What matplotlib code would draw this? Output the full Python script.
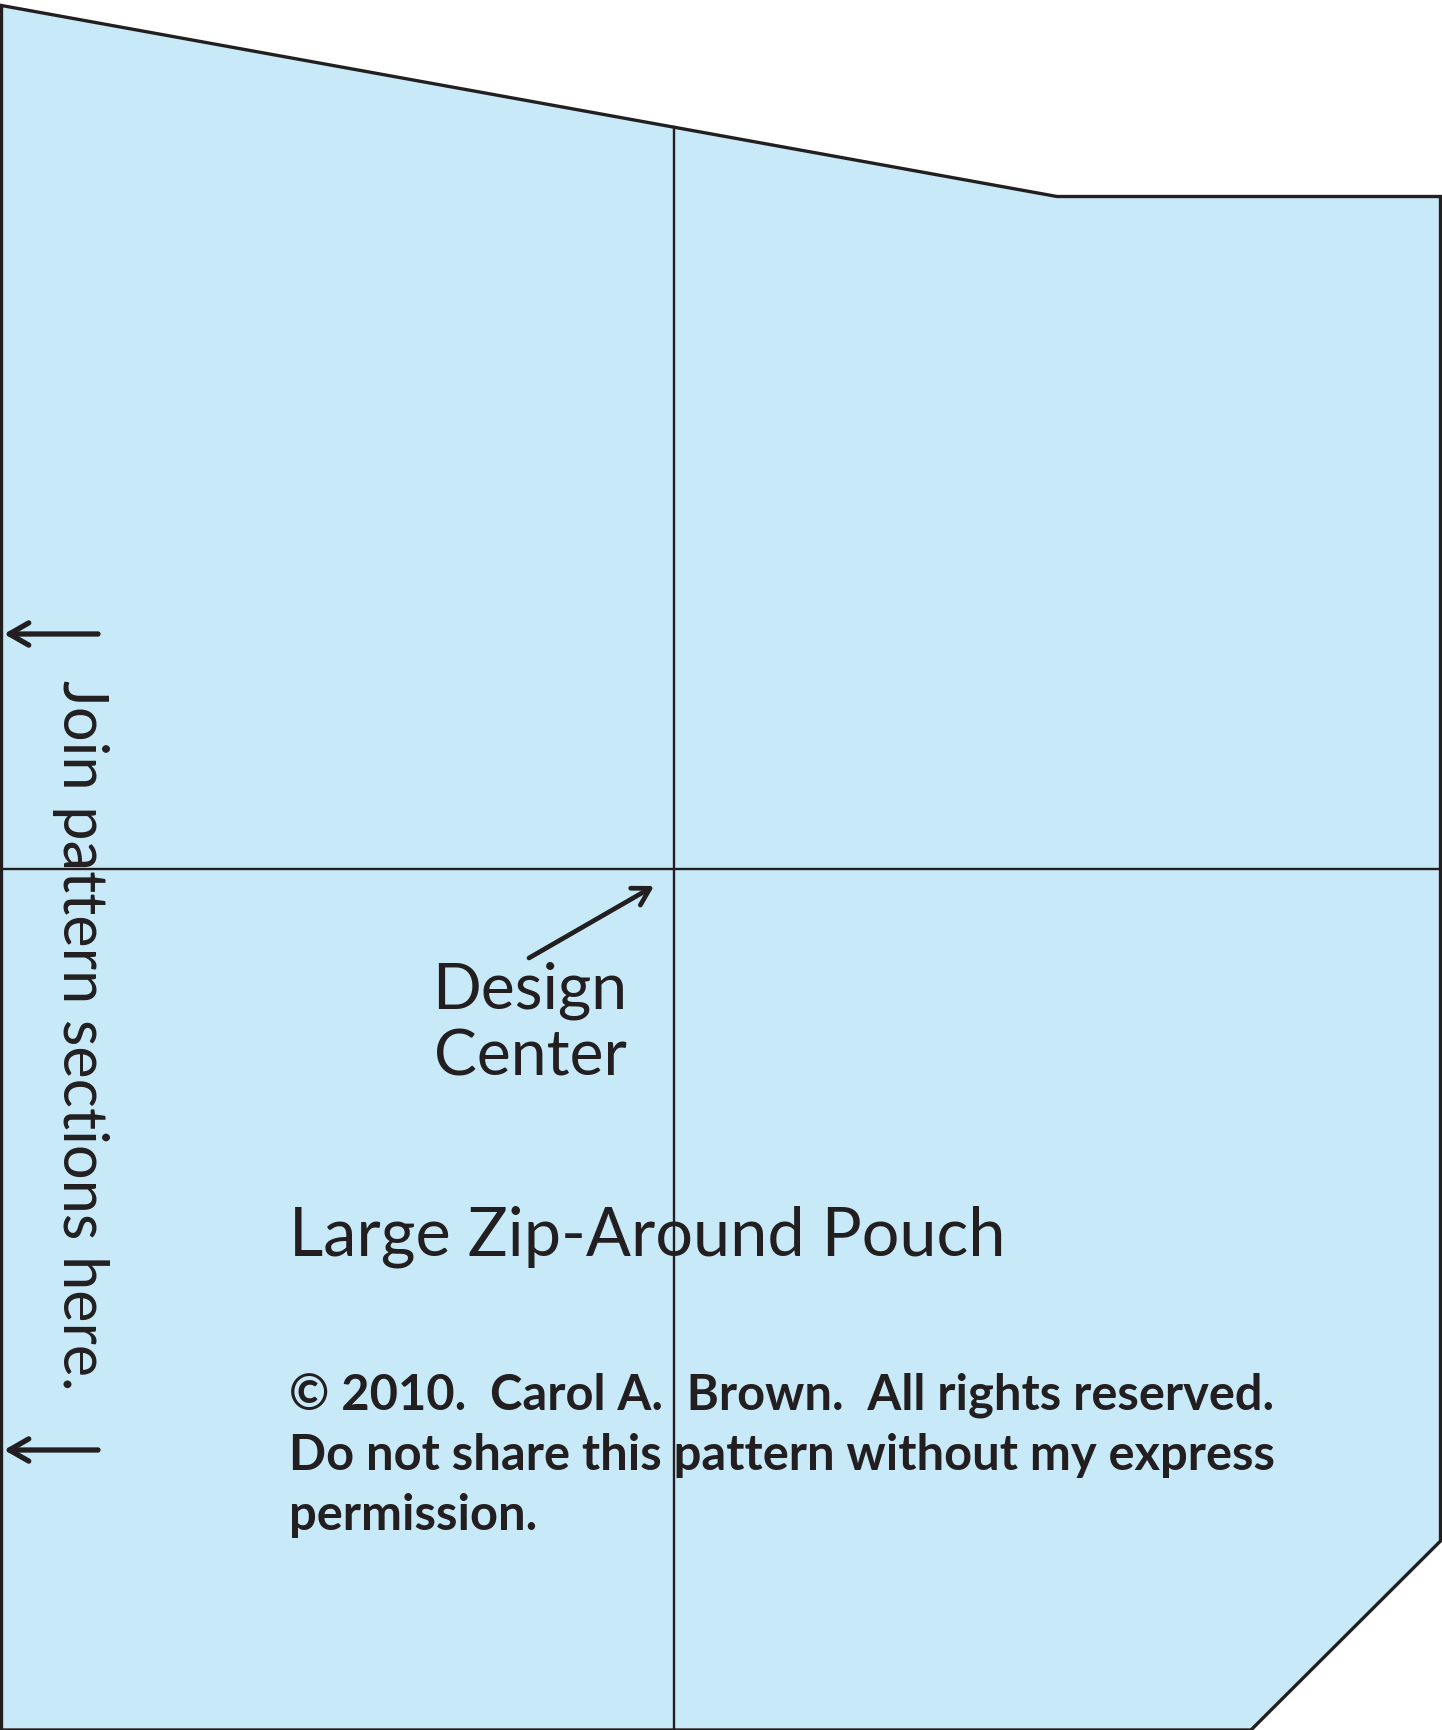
import matplotlib
matplotlib.use("Agg")
import matplotlib.pyplot as plt
from matplotlib.patches import Polygon

# ---- geometry of the pattern piece (pixel units of the 1442x1730 sheet) ----
W, H = 1442, 1730
piece_x = [1.5, 1057, 1440.5, 1440.5, 1251, 1.5]
piece_y = [5.5, 196.5, 196.5, 1541, 1730, 1730]
center_x = 674          # vertical design-center line
center_y = 869          # horizontal design-center line
join_arrow_y = [634, 1450]
join_arrow_x = [98, 4]

design_arrow_tail = (529, 958)
design_arrow_tip = (654, 886)

# ---- texts ----
join_text = "Join pattern sections here."
design_lines = ["Design", "Center"]
title_text = "Large Zip-Around Pouch"
copyright_lines = [
    "\u00a9 2010.  Carol A.  Brown.  All rights reserved.",
    "Do not share this pattern without my express",
    "permission.",
]

FILL = "#C8E9F8"
INK = "#231F20"
FONT = ["Lato", "DejaVu Sans"]

fig = plt.figure(figsize=(W / 100, H / 100), dpi=100)
ax = fig.add_axes([0, 0, 1, 1])
ax.set_xlim(0, W)
ax.set_ylim(H, 0)
ax.axis("off")
renderer = fig.canvas.get_renderer()

# piece outline
ax.add_patch(Polygon(list(zip(piece_x, piece_y)), closed=True,
                     facecolor=FILL, edgecolor=INK, lw=2.4, joinstyle="miter"))

# vertical center line starts on slanted top edge
x0, y0, x1, y1 = piece_x[0], piece_y[0], piece_x[1], piece_y[1]
top_at_center = y0 + (y1 - y0) * (center_x - x0) / (x1 - x0)
ax.plot([center_x, center_x], [top_at_center, H], color=INK, lw=1.7)
ax.plot([piece_x[0], piece_x[2]], [center_y, center_y], color=INK, lw=1.7)

# join arrows
for ya in join_arrow_y:
    ax.annotate("", xy=(join_arrow_x[1], ya), xytext=(join_arrow_x[0], ya),
                arrowprops=dict(arrowstyle="->,head_length=1.4,head_width=0.8",
                                color=INK, lw=3.8, shrinkA=0, shrinkB=0))

# design center arrow
ax.annotate("", xy=design_arrow_tip, xytext=design_arrow_tail,
            arrowprops=dict(arrowstyle="->,head_length=1.2,head_width=0.7",
                            color=INK, lw=3.4, shrinkA=0, shrinkB=0))


def fit_text(x, y, s, width, base=40, rotation=0, **kw):
    t = ax.text(x, y, s, fontsize=base, color=INK, family=FONT,
                ha="left", va="baseline", rotation_mode="anchor", **kw)
    bb = t.get_window_extent(renderer)
    t.set_fontsize(base * width / bb.width)
    t.set_rotation(rotation)
    return t


# rotated join text (reads top to bottom)
fit_text(63, 680, join_text, 710, rotation=-90)

# design center label
t1 = fit_text(435, 1008, design_lines[0], 195)
fs = t1.get_fontsize()
t2 = ax.text(530, 1076, design_lines[1], fontsize=fs, color=INK, family=FONT,
             ha="center", va="baseline")
t1.set_x(530)
t1.set_ha("center")

# title
fit_text(289, 1256, title_text, 716)

# copyright block
c1 = fit_text(289, 1410, copyright_lines[0], 985, weight="bold")
cfs = c1.get_fontsize()
for i, line in enumerate(copyright_lines[1:], start=1):
    ax.text(289, 1410 + 60 * i, line, fontsize=cfs, color=INK, family=FONT,
            weight="bold", ha="left", va="baseline")

fig.savefig("out.png", dpi=100, facecolor="white")
